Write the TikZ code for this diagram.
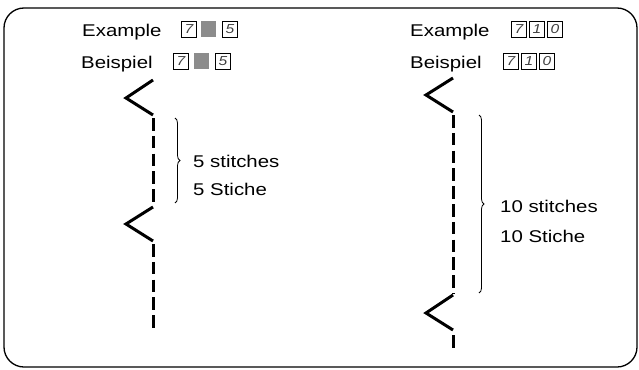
\documentclass[tikz,border=0pt]{standalone}
\usepackage{fontspec}
\setmainfont{Liberation Sans}[FakeStretch=1.2]
\usetikzlibrary{decorations.pathreplacing}
\begin{document}
\begin{tikzpicture}[x=1pt,y=-1pt,
    label/.style={anchor=base west,inner sep=0pt,font=\fontsize{17}{20}\selectfont},
    digit/.style={draw,line width=0.8pt,anchor=north west,minimum width=15pt,minimum height=16pt,
      inner sep=0pt,font=\fontsize{13}{13}\selectfont\itshape,text=black!75},
    blank/.style={fill=black!45,anchor=north west,minimum width=15pt,minimum height=16pt,inner sep=0pt},
    stitch/.style={line width=3pt,dash pattern=on 12.5pt off 5.3pt},
    zig/.style={line width=3pt},
    bracket/.style={decorate,decoration={brace,amplitude=5pt},line width=0.8pt}]
    \useasboundingbox (0,0) rectangle (639,369);
    \draw[line width=1.3pt,rounded corners=20pt] (4,8) rectangle (637,367);
    % left: 7 - 5
    \node[label] (exleft) at (82,37) {Example};
    \node[label] (beleft) at (81,68) {Beispiel};
    \node[digit] (exl1) at (181,21) {7};
    \node[blank] (exl2) at (201,21) {};
    \node[digit] (exl3) at (222,21) {5};
    \node[digit] (bel1) at (173,53) {7};
    \node[blank] (bel2) at (194,53) {};
    \node[digit] (bel3) at (215,53) {5};
    \draw[zig] (153,80) -- (126,98) -- (153,115);
    \draw[stitch] (153,118) -- (153,205);
    \draw[zig] (153,207) -- (126,224) -- (153,241);
    \draw[stitch] (153,244) -- (153,331);
    \draw[bracket] (175,118) -- (175,203);
    \node[label] (stl) at (193,167) {5 stitches};
    \node[label] (sdl) at (193,195) {5 Stiche};
    % right: 7 1 0
    \node[label] (exright) at (410,37) {Example};
    \node[label] (beright) at (410,68) {Beispiel};
    \node[digit] (exr1) at (511,21) {7};
    \node[digit] (exr2) at (529,21) {1};
    \node[digit] (exr3) at (547,21) {0};
    \node[digit] (ber1) at (503,53) {7};
    \node[digit] (ber2) at (521,53) {1};
    \node[digit] (ber3) at (539,53) {0};
    \draw[zig] (453,78) -- (426,95) -- (453,112);
    \draw[stitch] (453,115) -- (453,294);
    \draw[zig] (453,295) -- (426,313) -- (453,330);
    \draw[stitch] (453,335) -- (453,349);
    \draw[bracket] (479,115) -- (479,293);
    \node[label] (str) at (500,212) {10 stitches};
    \node[label] (sdr) at (500,242) {10 Stiche};
\end{tikzpicture}
\end{document}
